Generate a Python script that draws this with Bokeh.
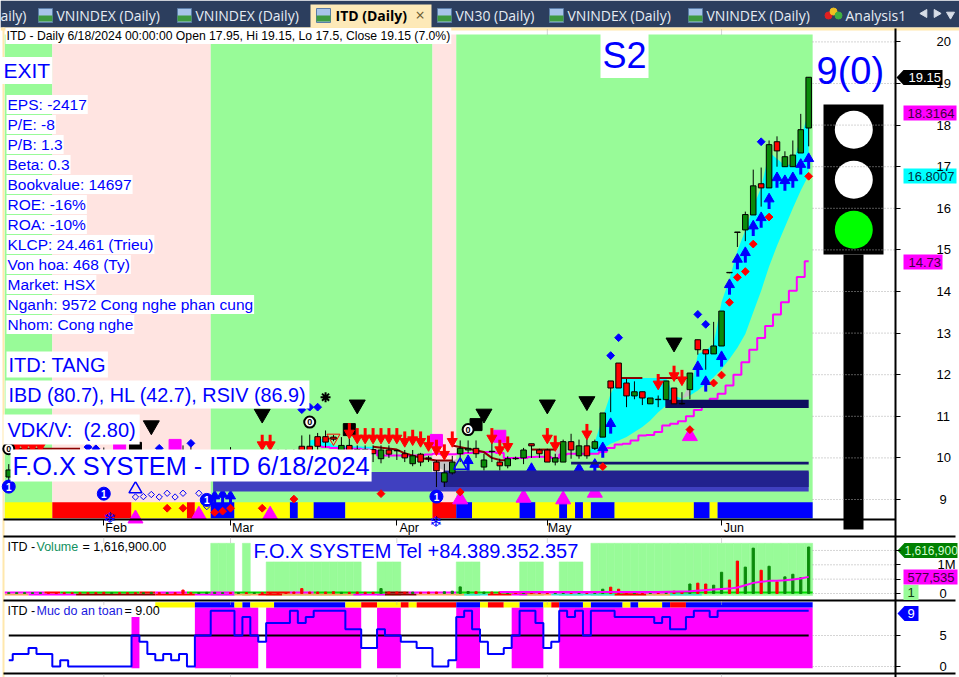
from bokeh.plotting import figure
from bokeh.models import Range1d, LinearAxis, FixedTicker, Label
from bokeh.embed import file_html
from bokeh.resources import INLINE
from bokeh.core.properties import value
import math

# ---------- data ----------
first_bar = -12
last_bar = 89
bar_i = list(range(first_bar, last_bar + 1))

month_ticks = [0, 16, 37, 56, 78]
month_names = ["Feb", "Mar", "Apr", "May", "Jun"]
price_ticks = [9, 10, 11, 12, 13, 14, 15, 16, 17, 18, 19, 20]
vol_ticks = [0, 0.5, 1, 1.5]
safe_ticks = [0, 5]

# candles (i, open, high, low, close)
ci = [-12,-11,-10,-9,-8,-7,-6,-5,-4,-3,-2,-1,0,1,2,3,4,5,6,7,8,9,10,11,12,13,14,15,16,17,18,19,20,21,22,23,24,25,26,
      27,28,29,30,31,32,33,34,35,36,37,38,39,40,41,42,43,44,45,46,47,48,49,50,51,52,53,54,55,56,57,58,59,60,61,62,63,64,65,
      66,67,68,69,70,71,72,73,74,75,76,77,78,79,80,81,82,83,84,85,86,87,88,89]
co = [9.54,10.0,10.0,10.0,10.0,10.0,10.0,10.0,10.0,10.0,10.0,10.0,10.1,10.0,10.0,10.0,10.1,10.0,9.9,9.9,9.8,9.8,9.8,10.1,9.7,9.6,9.7,9.7,9.8,9.8,9.9,9.9,10.1,10.1,10.1,10.1,10.13,10.28,10.28,
      10.51,10.51,10.5,10.18,10.3,10.2,10.2,10.2,9.98,10.19,10.18,10.1,9.86,10.09,10.0,9.9,9.42,9.64,10.1,10.19,10.23,9.78,10.16,9.9,9.81,9.99,10.0,10.34,10.19,10.19,9.9,9.9,10.39,10.05,10.29,10.23,10.5,11.85,12.28,
      11.8,11.49,11.59,11.3,11.41,11.4,11.68,11.31,11.64,12.84,12.6,12.5,12.69,14.46,15.43,15.48,15.84,16.59,16.49,17.6,17.0,17.0,17.33,17.93]
cc = [9.71,10.05,10.05,10.05,10.05,9.95,9.95,9.95,9.95,9.95,9.95,9.95,9.95,10.05,9.95,9.9,10.0,10.05,10.0,9.85,9.9,9.75,9.7,10.0,9.8,9.75,9.8,9.85,9.7,9.9,9.8,10.0,10.05,10.0,10.0,10.05,10.12,10.0,10.0,
      10.28,10.38,10.45,10.3,10.18,10.1,10.1,10.1,10.19,10.09,10.17,10.0,10.05,9.9,9.98,9.69,9.64,9.9,10.23,10.23,10.1,9.95,10.15,9.81,9.98,9.98,10.19,10.29,10.1,9.9,10.0,10.39,10.19,10.29,10.05,10.39,11.08,11.68,11.68,
      11.49,11.59,11.44,11.44,11.4,11.85,11.3,11.3,12.04,12.6,12.5,12.69,13.53,14.45,15.42,15.85,16.54,16.49,17.53,17.38,17.24,17.28,17.89,19.15]
ch = [9.85,10.18,10.18,10.18,10.18,10.18,10.15,10.15,10.15,10.15,10.15,10.15,10.25,10.15,10.15,10.1,10.15,10.15,10.1,10.1,10.0,10.0,10.3,10.3,9.9,9.8,9.9,9.95,10.26,10.1,10.05,10.05,10.2,10.2,10.2,10.2,10.2,10.54,10.56,
      10.6,10.66,10.55,10.5,10.5,10.3,10.3,10.3,10.3,10.3,10.19,10.19,10.19,10.12,10.05,9.95,9.86,10.05,10.42,10.42,10.42,10.1,10.42,9.98,10.04,10.03,10.24,10.34,10.22,10.22,10.1,10.44,10.58,10.44,10.58,10.44,11.08,11.85,12.28,
      11.9,11.84,11.59,11.44,11.5,11.85,11.68,11.58,12.04,12.84,12.6,13.27,13.53,14.46,15.43,15.92,16.93,16.98,17.63,17.73,17.37,17.63,18.27,19.15]
cl = [9.45,9.7,9.7,9.7,9.7,9.5,9.5,9.5,9.5,9.5,9.46,9.46,9.46,9.46,9.46,9.46,9.46,9.46,9.46,9.5,9.46,9.46,9.46,9.9,9.46,9.46,9.5,9.5,9.5,9.5,9.5,9.5,9.6,9.6,9.6,9.6,9.6,9.9,9.9,
      10.1,10.25,10.4,10.0,10.0,9.9,9.9,9.9,9.87,10.0,9.95,9.9,9.8,9.8,9.9,9.3,9.3,9.6,9.9,10.12,10.0,9.7,9.9,9.7,9.75,9.95,9.85,10.0,10.0,9.9,9.82,9.9,9.98,9.98,9.98,10.19,10.5,11.1,11.68,
      11.22,11.41,11.27,11.3,11.22,11.4,11.3,11.28,11.41,12.48,12.12,12.5,12.69,14.44,15.07,15.21,15.84,16.04,16.49,17.0,17.0,17.0,17.33,17.49]

# ribbon
rib_i = [61,62,63,64,65,66,67,68,69,70,71,72,73,74,75,76,77,78,79,80,81,82,83,84,85,86,87,88,89]
rib_up = [10.06,10.38,10.98,11.54,11.92,11.92,11.92,11.92,11.92,11.92,11.92,11.5,11.42,11.5,12.5,12.58,12.74,13.75,14.3,14.98,15.47,16.03,16.5,17.35,17.19,17.03,17.07,17.7,18.32]
rib_lo = [10.06,10.1,10.22,10.34,10.42,10.5,10.62,10.74,10.9,11.1,11.26,11.38,11.42,11.5,11.62,11.78,11.94,12.14,12.38,12.65,12.98,13.5,14.02,14.6,15.1,15.55,16.0,16.43,16.8]
rib2_i = [26,27,28,29,30,31,32,33,34]
rib2_up = [10.42,10.46,10.44,10.3,10.28,10.28,10.28,10.27,10.27]
rib2_lo = [10.3,10.3,10.28,10.24,10.24,10.23,10.23,10.22,10.22]
gray_i = [41,42,43,44,45]
gray_up = [10.0,9.94,9.94,9.94,10.0]
gray_lo = [10.0,9.78,9.7,9.72,10.0]
gray2_i = [73,74]
gray2_up = [11.42,11.8]
gray2_lo = [11.42,11.5]
gray3_i = [57,58]
gray3_up = [10.2,10.22]
gray3_lo = [10.05,9.95]

# magenta stepped average
mag_i = [27,28,29,30,31,32,33,34,35,36,37,38,39,40,41,42,43,44,45,46,47,48,49,50,51,52,53,54,55,56,57,58,59,60,61,62,63,64,65,66,67,68,69,70,71,72,73,74,75,76,77,78,79,80,81,82,83,84,85,86,87,88,89]
mag_v = [10.28,10.26,10.24,10.22,10.22,10.22,10.2,10.18,10.06,10.06,10.06,10.05,10.06,10.06,10.08,10.1,10.08,10.09,10.1,10.12,10.13,10.14,10.14,10.12,10.0,10.0,10.0,10.02,10.03,10.02,10.0,10.08,10.1,10.1,10.1,10.1,10.14,10.24,10.32,10.34,10.42,10.54,10.55,10.62,10.78,10.82,10.88,11.0,11.15,11.3,11.42,11.54,11.74,12.0,12.3,12.6,12.88,13.17,13.45,13.74,14.02,14.35,14.73]

# dark-red line pieces
brown_x = [[-12,-3],[34,37,38,40,42,44],[44,46,48,49,50,51],[54,57],[65,68],[70,74]]
brown_y = [[10.22,10.22],[10.27,10.2,10.11,10.0,9.94,9.94],[10.3,10.22,10.14,10.0,9.95,9.94],[10.2,10.2],[11.92,11.92],[11.92,11.92]]

# horizontal zones
zone_left = [13.8,42.9,59,70.9]
zone_right = [89,89,89,89]
zone_top = [9.66,9.70,9.91,11.40]
zone_bot = [9.19,9.30,9.84,11.20]
zone_col = ["#4040c0","#22228e","#14146e","#0e0e5e"]

# runs per bar
band_codes = ["g","p","g","p","g"]
band_counts = [6,20,28,3,45]
strip_codes = list("YRYRYBYBYBYRBYBYBYBYBYBYB")
strip_counts = [6,10,7,1,2,3,7,1,2,4,11,3,2,6,2,3,1,1,1,1,3,10,2,1,12]
safe_strip_codes = list("YBYBYBYRYRYRBYRYBYRBYBYBYBRB")
safe_strip_counts = [5,5,1,1,3,9,2,2,3,1,1,5,3,1,2,2,3,1,1,3,1,4,1,1,3,1,2,16]
safe_strip_start = 7

up_arrow_i = [14,15,16,46,54,60,62,63,64,75,76,78,79,80,81,82,83,84,85,86,87,88,89]
up_arrow_tip = [9.18,9.22,9.18,10.03,9.84,9.84,9.94,10.34,10.92,12.29,11.93,12.53,14.26,14.87,15.03,15.67,15.87,16.32,16.83,16.76,16.83,17.15,17.29]
dn_arrow_i = [-11,-10,-9,-8,20,21,31,32,33,34,35,36,37,38,39,40,41,42,43,44,49,50,51,56,57,61,70,72,73]
dn_arrow_tip = [10.18,10.18,10.18,10.18,10.22,10.22,10.5,10.38,10.38,10.38,10.38,10.38,10.38,10.3,10.34,10.3,10.2,10.1,9.99,10.3,10.38,10.1,10.18,10.38,10.2,10.48,11.68,11.88,11.78]
red_d_i = [8,10,14,15,16,20,24,35,45,63,74,77,78,79,80,81,82,84,89]
red_d_v = [8.79,8.79,8.69,8.72,8.79,8.79,9.01,9.14,9.18,9.79,10.68,11.8,11.99,13.74,14.34,14.48,15.14,15.79,16.77]
blue_d_i = [-2,-1,7,11,25,26,27,64,65,75,76,83]
blue_d_v = [10.26,10.22,10.23,10.35,11.16,11.22,11.22,12.46,12.89,13.45,13.21,17.6]
hollow_i = [4,5,6,7,8,9,10,12,13]
hollow_v = [9.06,9.07,9.12,9.06,9.15,9.06,9.15,9.15,8.83]
tri_i = [4,12,21,45,53,58,62,74]
tri_v = [8.54,8.63,8.63,9.0,9.04,9.0,9.16,10.52]
black_t_i = [6,20,32,48,56,61,72]
black_t_v = [10.78,11.06,11.28,11.06,11.28,11.36,12.77]
black_s_i = [4,31,47]
black_s_v = [10.23,10.68,10.8]
mag_s_i = [2,9,42,50]
mag_s_v = [10.22,10.3,10.42,10.52]
circ0_i = [-12,26,46]
circ0_v = [10.22,10.86,10.68]
circ1_i = [-12,0,13,42]
circ1_v = [9.31,9.14,8.99,9.07]
hollow_tri_i = [4,45]
hollow_tri_v = [9.25,9.82]

# volume in millions
vol_v = [.03,.03,.03,.03,.03,.03,.03,.03,.03,.03,.03,.03,.04,.03,.03,.03,.03,.03,.04,.03,.03,.03,.12,.03,.03,.04,.04,.03,.03,.03,.03,.03,.03,.03,.03,.03,.05,.17,.05,
         .05,.05,.06,.04,.04,.05,.04,.04,.17,.05,.05,.04,.05,.04,.05,.05,.06,.08,.23,.07,.06,.05,.05,.05,.05,.04,.04,.05,.04,.05,.06,.05,.05,.05,.05,.06,.15,.22,.15,
         .05,.06,.05,.05,.05,.06,.08,.06,.33,.36,.33,.29,.74,.47,1.13,.92,1.58,.81,.95,.41,.58,.67,.55,1.62]
vma_i = [50,60,62,70,74,77,79,80,81,82,83,84,85,86,87,88,89]
vma_v = [.05,.05,.05,.05,.08,.14,.17,.21,.29,.37,.41,.44,.44,.46,.49,.52,.58]
vband_i = [14,15,16,18,21,22,23,24,25,26,27,28,29,30,31,32,35,36,37,45,46,47,53,54,55,58,59,60]+list(range(62,90))
vband_v = [1.75,1.75,1.75,1.75,1.1,1.1,1.1,1.1,1.1,1.1,1.1,1.1,1.1,1.1,1.1,1.1,1.1,1.1,1.1,1.1,1.1,1.1,1.1,1.1,1.1,1.1,1.1,1.1]+[1.75]*28
vrow1_codes = list("mrgrmgmgrmgdmgrmgrmg")
vrow1_counts = [5,2,10,2,4,3,3,4,3,3,9,3,6,7,3,8,3,2,4,18]
vrow2_codes = list("omdrmoromdotrmotcroct")
vrow2_counts = [3,6,10,5,5,3,3,9,4,4,6,3,3,2,3,3,5,4,3,4]

# safety
safe_i = bar_i
safe_v = [1,2,2,3,2,2,0,1,0,0,0,0,0,0,0,0,5,4,2,1,2,1,2,0,5,5,9,9,9,5,8,5,4,7,7,7,9,7,8,9,9,9,9,6,6,3,3,6,5,5,4,4,3,3,0,0,1,8,9,6,4,2,2,3,5,9,9,7,3,4,9,8,9,5,9,9,9,8,8,8,8,8,7,8,6,6,8,9,9,8,9,9,9,9,9,9,9,9,9,9,9,9]
pink_runs_i = [4,12,21,35,45,52,58]
pink_runs_n = [1,8,12,3,3,4,32]
pink_tops = [8,9.5,9.5,9.5,9.5,9.5,9.5]

tab_names = ["aily)","VNINDEX (Daily)","VNINDEX (Daily)","ITD (Daily)","VN30 (Daily)","VNINDEX (Daily)","VNINDEX (Daily)","Analysis1"]
tab_x = [0,56,195,335,455,567,706,845]
tab_icon_x = [38,177,316,437,549,688]

info_rows = ["EPS: -2417","P/E: -8","P/B: 1.3","Beta: 0.3","Bookvalue: 14697","ROE: -16%","ROA: -10%","KLCP: 24.461 (Trieu)","Von hoa: 468 (Ty)","Market: HSX","Nganh: 9572 Cong nghe phan cung","Nhom: Cong nghe"]

# ---------- scales: 7.92 px per bar, Feb tick at 103.3 px ----------
W, H = 959, 677
BAR0, BARW = 103.3, 7.92
PY9, PPU = 499.0, 41.6
VY0, VPM = 593.0, 28.7
SY0, SPU = 666.0, 6.2

p = figure(width=W, height=H, output_backend="svg", toolbar_location=None,
           x_range=Range1d(0, W), y_range=Range1d(H, 0), min_border=0,
           x_axis_type=None, y_axis_type=None, outline_line_color=None,
           background_fill_color="white", border_fill_color="white")
p.xgrid.visible = False
p.ygrid.visible = False
p.extra_x_ranges["bar"] = Range1d((0 - BAR0) / BARW, (W - BAR0) / BARW)
p.extra_y_ranges["price"] = Range1d(9 + (PY9 - H) / PPU, 9 + PY9 / PPU)
p.extra_y_ranges["vol"] = Range1d((VY0 - H) / VPM, VY0 / VPM)
p.extra_y_ranges["safe"] = Range1d((SY0 - H) / SPU, SY0 / SPU)

BAR = dict(x_range_name="bar")
PR = dict(x_range_name="bar", y_range_name="price")
VO = dict(x_range_name="bar", y_range_name="vol")
SA = dict(x_range_name="bar", y_range_name="safe")
PX = 1.0 / PPU

COL = {"g": "#98fb98", "p": "#ffe4e1", "Y": "#ffff00", "R": "#ff0000", "B": "#0000ff",
       "m": "#ff00ff", "r": "#ff0000", "d": "#8b0000", "o": "#f4a460", "t": "#40e0d0", "c": "#40e0d0", "G": "#00ff00"}
COL2 = dict(COL); COL2["g"] = "#00e000"


def runs(codes, counts, start=first_bar, table=COL):
    l, r, c = [], [], []
    i = start
    for k, n in zip(codes, counts):
        l.append(i - 0.5); r.append(i + n - 0.5); c.append(table[k]); i += n
    return l, r, c


# tab bar / chrome
p.quad(left=[0], right=[W], top=[0], bottom=[27], color="#2c3e5e", line_color=None)
p.quad(left=[310], right=[431], top=[4], bottom=[28], color="#fde9b8", line_color=None)
p.quad(left=[0], right=[W], top=[27], bottom=[30], color="#ffe8ad", line_color=None)
p.quad(left=[2], right=[4], top=[27], bottom=[H], color="#ffe8ad", line_color=None)
p.quad(left=tab_icon_x, right=[v + 14 for v in tab_icon_x], top=[8] * 6, bottom=[22] * 6, color="#a8c4e8", line_color="#5a7ca8")
p.quad(left=tab_icon_x, right=[v + 14 for v in tab_icon_x], top=[15] * 6, bottom=[21] * 6, color="#3f9a3f", line_color=None)
p.scatter(x=[828, 833, 838], y=[15, 11, 15], marker="circle", size=7, color=["#e02020", "#f0c020", "#40b040"])
p.scatter(x=[924, 936], y=[13, 13], marker="triangle", size=8, color="#d8dee8", angle=[1.5708, -1.5708])
p.scatter(x=[950], y=[14], marker="inverted_triangle", size=8, color="#d8dee8")
for name, x0, active in zip(tab_names, tab_x, [0, 0, 0, 1, 0, 0, 0, 0]):
    p.add_layout(Label(x=x0, y=14.5, text=name, text_font="Open Sans", text_font_size="14px",
                       text_font_style="bold" if active else "normal",
                       text_color="black" if active else "#e6ecf4", text_baseline="middle"))
p.add_layout(Label(x=415, y=14, text="×", text_font="Open Sans", text_font_size="16px", text_color="#6a5a30", text_baseline="middle"))

# background zones
l, r, c = runs(band_codes, band_counts)
p.quad(left=l, right=r, top=[34] * len(l), bottom=[518] * len(l), color=c, line_color=None, **BAR)
l, r, c = runs(strip_codes, strip_counts)
p.quad(left=l, right=r, top=[501.7] * len(l), bottom=[517.7] * len(l), color=c, line_color=None, **BAR)

# ribbons
p.varea(x=rib_i, y1=rib_lo, y2=rib_up, color="#00ffff", **PR)
p.varea(x=rib2_i, y1=rib2_lo, y2=rib2_up, color="#00ffff", **PR)
p.varea(x=gray_i, y1=gray_lo, y2=gray_up, color="#c4c4c4", **PR)
p.varea(x=gray2_i, y1=gray2_lo, y2=gray2_up, color="#c4c4c4", **PR)
p.varea(x=gray3_i, y1=gray3_lo, y2=gray3_up, color="#c4c4c4", **PR)

# magenta average
p.step(x=mag_i, y=mag_v, mode="center", line_color="#ff00ff", line_width=2, **PR)
p.multi_line(xs=brown_x, ys=brown_y, line_color="#8b0000", line_width=2, **PR)

# blue arrows and magenta triangles sit under the zones
def up_arrows(xs, tips):
    p.segment(x0=xs, x1=xs, y0=[t - 5 * PX for t in tips], y1=[t - 14 * PX for t in tips],
              line_color="#0000ff", line_width=3, **PR)
    p.scatter(x=xs, y=[t - 4 * PX for t in tips], marker="triangle", size=10, color="#0000ff", **PR)


def dn_arrows(xs, tips):
    p.segment(x0=xs, x1=xs, y0=[t + 5 * PX for t in tips], y1=[t + 14 * PX for t in tips],
              line_color="#ff0000", line_width=3, **PR)
    p.scatter(x=xs, y=[t + 4 * PX for t in tips], marker="inverted_triangle", size=10, color="#ff0000", **PR)


up_arrows(up_arrow_i, up_arrow_tip)
p.scatter(x=tri_i, y=tri_v, marker="triangle", size=15, color="#ff00ff", **PR)
p.quad(left=zone_left, right=zone_right, top=zone_top, bottom=zone_bot, color=zone_col, line_color=None, **PR)

# squares under the candles
p.scatter(x=mag_s_i, y=mag_s_v, marker="square", size=12, color="#ff00ff", **PR)
p.scatter(x=black_s_i, y=black_s_v, marker="square", size=12, color="black", **PR)

# candles
p.segment(x0=ci, x1=ci, y0=cl, y1=ch, line_color="black", line_width=1, **PR)
p.vbar(x=ci, width=0.7, top=[max(a, b) for a, b in zip(co, cc)], bottom=[min(a, b) for a, b in zip(co, cc)],
       fill_color=["#0a8a0a" if b >= a else "#ff0000" for a, b in zip(co, cc)], line_color="black", line_width=1, **PR)

# signals
dn_arrows(dn_arrow_i, dn_arrow_tip)
RHOMB = dict(marker="square", angle=math.pi / 4)
p.scatter(x=red_d_i, y=red_d_v, size=5.5, color="#ff0000", **RHOMB, **PR)
p.scatter(x=blue_d_i, y=blue_d_v, size=5.5, color="#0000ff", **RHOMB, **PR)
p.scatter(x=hollow_i, y=hollow_v, size=4.5, fill_color=None, line_color="#0000ff", **RHOMB, **PR)
p.scatter(x=black_t_i, y=black_t_v, marker="inverted_triangle", size=16, color="black", **PR)
p.scatter(x=hollow_tri_i, y=hollow_tri_v, marker="triangle", size=13, fill_color=None, line_color="#0000ff", line_width=1.5, **PR)
p.scatter(x=[29], y=[10.48], marker="inverted_triangle", size=13, fill_color=None, line_color="#ff0000", **PR)
p.scatter(x=[28], y=[11.46], marker="asterisk", size=10, line_color="black", line_width=2, **PR)
p.scatter(x=circ0_i, y=circ0_v, marker="circle", size=11, fill_color="white", line_color="black", line_width=2, **PR)
p.text(x=circ0_i, y=circ0_v, text=["0"] * 3, text_font_size="9px", text_font_style="bold", text_color="black",
       text_align="center", text_baseline="middle", text_font=value("Liberation Sans"), **PR)
p.scatter(x=circ1_i, y=circ1_v, marker="circle", size=13, color="#0000ff", **PR)
p.text(x=circ1_i, y=circ1_v, text=["1"] * 4, text_font_size="10px", text_font_style="bold", text_color="white",
       text_align="center", text_baseline="middle", text_font=value("Liberation Sans"), **PR)

# traffic light
p.quad(left=[823], right=[883], top=[104], bottom=[254], color="black", line_color=None)
p.quad(left=[843], right=[863], top=[254], bottom=[529], color="black", line_color=None)
p.circle(x=[853.3, 853.3, 853.3], y=[129.3, 179.3, 229.3], radius=19,
         color=["white", "white", "#00ff00"], line_color=None)

# volume panel
p.vbar(x=vband_i, width=1.0, top=vband_v, bottom=[-0.07] * len(vband_i), color="#98fb98", line_color="#98fb98", line_width=0.5, **VO)
l, r, c = runs(vrow2_codes, vrow2_counts, table=COL2)
p.quad(left=l, right=r, top=[0.0] * len(l), bottom=[-0.07] * len(l), color=c, line_color=None, **VO)
l, r, c = runs(vrow1_codes, vrow1_counts, table=COL2)
p.quad(left=l, right=r, top=[0.07] * len(l), bottom=[0.0] * len(l), color=c, line_color=None, **VO)
p.vbar(x=bar_i, width=0.28, top=vol_v, bottom=[0] * len(bar_i),
       color=["#0a8a0a" if b >= a else "#ff0000" for a, b in zip(co, cc)], **VO)
p.line(x=vma_i, y=vma_v, line_color="#ff00ff", line_width=2, **VO)

# safety panel
p.quad(left=[a - 0.5 for a in pink_runs_i], right=[a + n - 0.5 for a, n in zip(pink_runs_i, pink_runs_n)],
       top=pink_tops, bottom=[-0.27] * len(pink_runs_i), color="#ff00ff", line_color=None, **SA)
l, r, c = runs(safe_strip_codes, safe_strip_counts, start=safe_strip_start)
p.quad(left=l, right=r, top=[601.7] * len(l), bottom=[607] * len(l), color=c, line_color=None, **BAR)
p.line(x=[first_bar, last_bar], y=[5, 5], line_color="black", line_width=2, **SA)
p.step(x=safe_i, y=safe_v, mode="center", line_color="#0000ff", line_width=2, **SA)

# panel frame lines
for yy, xe in [(536, 955), (600, 955), (673, 955)]:
    p.line(x=[3, xe], y=[yy, yy], line_color="black", line_width=2)
p.line(x=[3, 895], y=[519, 519], line_color="black", line_width=2)

# dotted guides
for rng, ticks in [("price", price_ticks), ("vol", vol_ticks), ("safe", safe_ticks)]:
    p.segment(x0=[812] * len(ticks), x1=[895] * len(ticks), y0=ticks, y1=ticks, y_range_name=rng,
              line_color="#aaaaaa", line_dash="1 2", line_width=1)
for y0, y1 in [(29, 34), (537, 542), (601, 604), (674, 677)]:
    p.segment(x0=month_ticks, x1=month_ticks, y0=[y0] * 5, y1=[y1] * 5, line_color="#aaaaaa", line_dash="1 1", **BAR)


# axes
def yaxis(rng, ticks, labels, standoff, show_ticks=True, line=False):
    ax = LinearAxis(y_range_name=rng, fixed_location=895, ticker=FixedTicker(ticks=ticks),
                    major_label_overrides=labels, major_label_standoff=standoff,
                    major_tick_out=5 if show_ticks else 0, major_tick_in=0, minor_tick_line_color=None,
                    major_tick_line_color="black" if show_ticks else None,
                    axis_line_color="black" if line else None, axis_line_width=2,
                    major_label_text_font="Liberation Sans", major_label_text_font_size="13px",
                    major_label_text_color="black")
    if line:
        ax.bounds = (9 + (PY9 - H) / PPU, 9 + (PY9 - 28) / PPU)
    p.add_layout(ax, "right")


yaxis("price", price_ticks, {t: (str(t) if t >= 10 else "") for t in price_ticks}, 36, line=True)
yaxis("price", [9], {9: "9"}, 44, False)
yaxis("vol", vol_ticks, {0: "", 0.5: "", 1: "1M", 1.5: ""}, 37)
yaxis("vol", [0], {0: "0"}, 44, False)
yaxis("safe", safe_ticks, {0: "", 5: ""}, 37)
yaxis("safe", safe_ticks, {0: "0", 5: "5"}, 44, False)

xa = LinearAxis(x_range_name="bar", fixed_location=519, ticker=FixedTicker(ticks=month_ticks),
                major_label_overrides={t: "" for t in month_ticks}, major_tick_out=6, major_tick_in=0,
                minor_tick_line_color=None, axis_line_color=None, major_tick_line_color="black")
p.add_layout(xa, "below")
label_ticks = [t + 1.55 for t in month_ticks]
xb = LinearAxis(x_range_name="bar", fixed_location=519, ticker=FixedTicker(ticks=label_ticks),
                major_label_overrides=dict(zip(label_ticks, month_names)), major_tick_out=0, major_tick_in=0,
                minor_tick_line_color=None, axis_line_color=None, major_tick_line_color=None,
                major_label_standoff=1, major_label_text_font="Liberation Sans", major_label_text_font_size="12.5px",
                major_label_text_color="black")
p.add_layout(xb, "below")


# text
def txt(text, x, y, size, color="#0000ff", bg=None, font="Liberation Sans", style="normal", pad=1):
    if bg:
        x -= pad + 1
        y -= 1
    p.add_layout(Label(x=x, y=y, text=text, text_font=font, text_font_size=f"{size}px", text_color=color,
                       text_font_style=style, text_baseline="middle", padding=pad if bg else 0,
                       background_fill_color=bg))


txt("ITD - Daily 6/18/2024 00:00:00 Open 17.95, Hi 19.15, Lo 17.5, Close 19.15 (7.0%)", 7, 36.5, 12.2, "black", "white")
txt("EXIT", 4, 71, 21, bg="white", pad=2)
for k, row in enumerate(info_rows):
    txt(row, 8, 105 + 20 * k, 15.5, bg="white")
txt("ITD: TANG", 9, 365, 20, bg="white", pad=2)
txt("IBD (80.7), HL (42.7), RSIV (86.9)", 9, 395, 19.8, bg="white", pad=3)
txt("VDK/V:\u00a0\u00a0(2.80)", 8, 430, 20, bg="white", pad=4)
txt("F.O.X SYSTEM - ITD 6/18/2024", 13, 466, 25.3, bg="white", pad=2)
txt("S2", 603, 56, 36, bg="white", pad=2)
txt("9(0)", 816, 70, 38)
txt("F.O.X SYSTEM Tel +84.389.352.357", 253, 550, 20)
txt("ITD - ", 7, 546, 12.5, "black")
txt("Volume", 36, 546, 12.5, "#109060")
txt("= 1,616,900.00", 82, 546, 12.5, "black")
txt("ITD - ", 7, 610, 12.5, "black")
txt("Muc do an toan", 36, 610, 12.5, "#1818e0")
txt("= 9.00", 124, 610, 12.5, "black")
txt("\u2744", 103, 517, 15, font="DejaVu Sans")
txt("\u2744", 429, 521, 15, font="DejaVu Sans")


# value tags on the price and panel scales
def tag(x0, x1, yc, col, arrow=False):
    xs = [x0, x1, x1, x0]
    ys = [yc - 7.5, yc - 7.5, yc + 7.5, yc + 7.5]
    if arrow:
        xs = [x0, x0 + 7, x1, x1, x0 + 7]
        ys = [yc, yc - 7.5, yc - 7.5, yc + 7.5, yc + 7.5]
    p.patch(x=xs, y=ys, color=col, line_color=None)


tag(896, 942, 77, "black", True)
txt("19.15", 908, 77, 13, "white")
tag(903, 956, 112.5, "#ff00ff")
txt("18.3164", 907, 112.5, 13, "#400040")
tag(903, 956, 175.5, "#00ffff")
txt("16.8007", 907, 175.5, 13, "#003040")
tag(903, 942, 261.5, "#ff00ff")
txt("14.73", 908, 261.5, 13, "#400040")
tag(897, 957, 550, "#008000", True)
txt("1,616,900", 904, 550, 12, "#d0ffd0")
tag(903, 957, 576.5, "#ff00ff")
txt("577,535", 907, 576.5, 13, "#400040")
tag(903, 918, 592, "#98fb98")
txt("1", 907, 592, 13, "#104010")
tag(897, 918, 613, "#0000ff", True)
txt("9", 907, 613, 13, "white")

open("out.html", "w").write(file_html(p, INLINE))
